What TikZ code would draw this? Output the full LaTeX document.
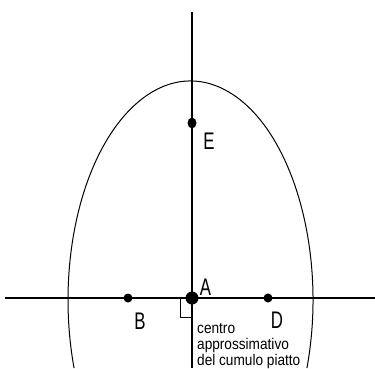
\documentclass[tikz,border=0pt]{standalone}
\usepackage{fontspec}
\setmainfont{Liberation Sans}
\newfontfamily\letterefont[FakeStretch=0.7]{Liberation Sans}
\newfontfamily\notafont[FakeStretch=0.88]{Liberation Sans}
\usetikzlibrary{positioning, shapes.geometric}

\begin{document}
\begin{tikzpicture}[x=1pt,y=1pt,
    punto/.style={fill, circle, inner sep=0pt, minimum size=9pt},
    lettera/.style={font=\letterefont\fontsize{24}{24}\selectfont, inner sep=0pt}]
  \useasboundingbox (0,0) rectangle (375,368);

  % assi
  \coordinate (Xs) at (5,70);
  \coordinate (Xd) at (375,70);
  \coordinate (Ya) at (192,356);
  \coordinate (Yb) at (192,0);
  \draw[line width=1.2pt] (Xs) -- (Xd); % asse orizzontale
  \draw[line width=1.2pt] (Ya) -- (Yb); % asse verticale

  % curva
  \draw[line width=1pt] (190.5,68) ++(-18.1:122.5 and 219)
    arc[start angle=-18.1, end angle=198.1, x radius=122.5, y radius=219];

  % punti
  \node[punto, minimum size=13pt] (A) at (192,70) {};
  \node[punto] (B) at (128,70) {};
  \node[punto] (D) at (268,70) {};
  \node[punto, ellipse, minimum width=9pt, minimum height=11pt] (E) at (192,245) {};

  \node[lettera, xshift=13.5pt, yshift=10.5pt] (lA) at (A) {A};
  \node[lettera, xshift=12pt, yshift=-23.5pt] (lB) at (B) {B};
  \node[lettera, xshift=9pt, yshift=-22pt] (lD) at (D) {D};
  \node[lettera, xshift=17pt, yshift=-18pt] (lE) at (E) {E};

  % angolo retto
  \draw[line width=1pt] (180,70) -- (180,51) -- (192,51);

  \node[anchor=base west, align=left, inner sep=0pt,
    font=\notafont\fontsize{15.5}{16}\selectfont] (nota) at (197,3)
    {centro\\approssimativo\\del cumulo piatto};

\end{tikzpicture}
\end{document}
